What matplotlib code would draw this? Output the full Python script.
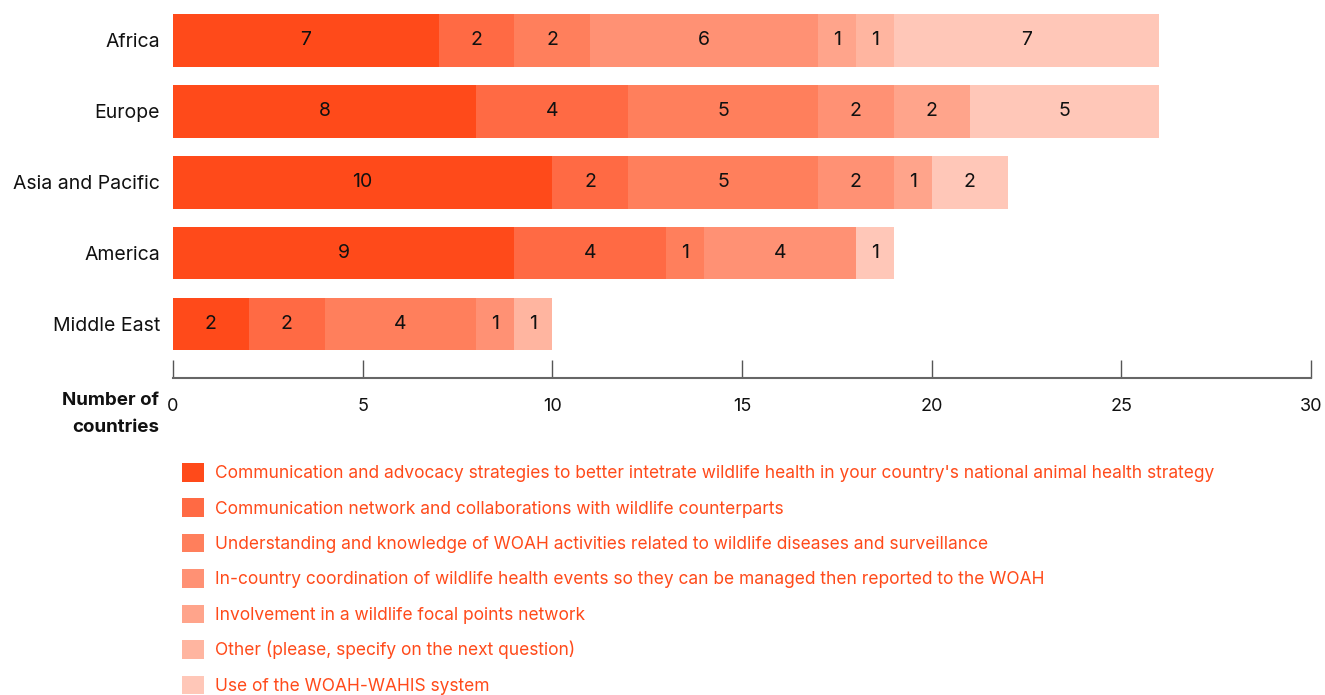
import matplotlib
matplotlib.use("Agg")
import matplotlib.pyplot as plt
import numpy as np

plt.rcParams['font.family'] = ['Inter', 'DejaVu Sans']

regions = ["Africa", "Europe", "Asia and Pacific", "America", "Middle East"]

categories = [
    "Communication and advocacy strategies to better intetrate wildlife health in your country's national animal health strategy",
    "Communication network and collaborations with wildlife counterparts",
    "Understanding and knowledge of WOAH activities related to wildlife diseases and surveillance",
    "In-country coordination of wildlife health events so they can be managed then reported to the WOAH",
    "Involvement in a wildlife focal points network",
    "Other (please, specify on the next question)",
    "Use of the WOAH-WAHIS system",
]

# counts per category, in region order (Africa, Europe, Asia and Pacific, America, Middle East)
advocacy_strategies = [7, 8, 10, 9, 2]
network_collaborations = [2, 4, 2, 4, 2]
woah_activities = [2, 5, 5, 1, 4]
incountry_coordination = [6, 2, 2, 4, 1]
focal_points_network = [1, 2, 1, 0, 0]
other = [1, 0, 0, 0, 1]
woah_wahis = [7, 5, 2, 1, 0]

series = [advocacy_strategies, network_collaborations, woah_activities,
          incountry_coordination, focal_points_network, other, woah_wahis]

colors = ["#FF4A1A", "#FF6A44", "#FF7F5C", "#FF9174", "#FFA48B", "#FFB5A0", "#FFC7B8"]

x_ticks = [0, 5, 10, 15, 20, 25, 30]

W, H = 1325, 695
fig = plt.figure(figsize=(W / 100, H / 100), dpi=100)
ax = fig.add_axes([173 / W, 1 - 378 / H, (1311 - 173) / W, 378 / H])

ypos = np.arange(len(regions))[::-1]
left = np.zeros(len(regions))
handles = []
for vals, col, lab in zip(series, colors, categories):
    vals = np.array(vals, dtype=float)
    bars = ax.barh(ypos, vals, left=left, height=0.74, color=col, label=lab,
                   linewidth=0)
    ax.bar_label(bars, labels=[f"{int(v)}" if v > 0 else "" for v in vals],
                 label_type="center", fontsize=14, color="#111111")
    handles.append(bars)
    left += vals

ax.set_xlim(0, 30)
ax.set_ylim(-0.76, 4.57)
ax.set_yticks(ypos)
ax.set_yticklabels(regions, fontsize=14, color="#111111")
ax.tick_params(axis="y", length=0, pad=9.5)
ax.set_xticks(x_ticks)
ax.set_xticklabels([str(t) for t in x_ticks], fontsize=13, color="#111111")
ax.tick_params(axis="x", direction="in", length=13, width=1.0, color="#555555",
               pad=14.5)
for s in ["top", "right", "left"]:
    ax.spines[s].set_visible(False)
ax.spines["bottom"].set_color("#666666")
ax.spines["bottom"].set_linewidth(1.5)

fig.text(159 / W, 1 - 392 / H, "Number of\ncountries", ha="right", va="top",
         fontsize=13.5, fontweight="bold", color="#111111", linespacing=1.75)

leg = fig.legend(handles=handles, labels=categories, loc="upper left",
                 bbox_to_anchor=(182 / W, 1 - 463 / H), frameon=False,
                 fontsize=12.5, labelcolor="#FF4A1A", handlelength=1.27,
                 handleheight=1.27, handletextpad=0.62, labelspacing=0.94,
                 borderaxespad=0, borderpad=0)

fig.savefig("out.png", dpi=100)
